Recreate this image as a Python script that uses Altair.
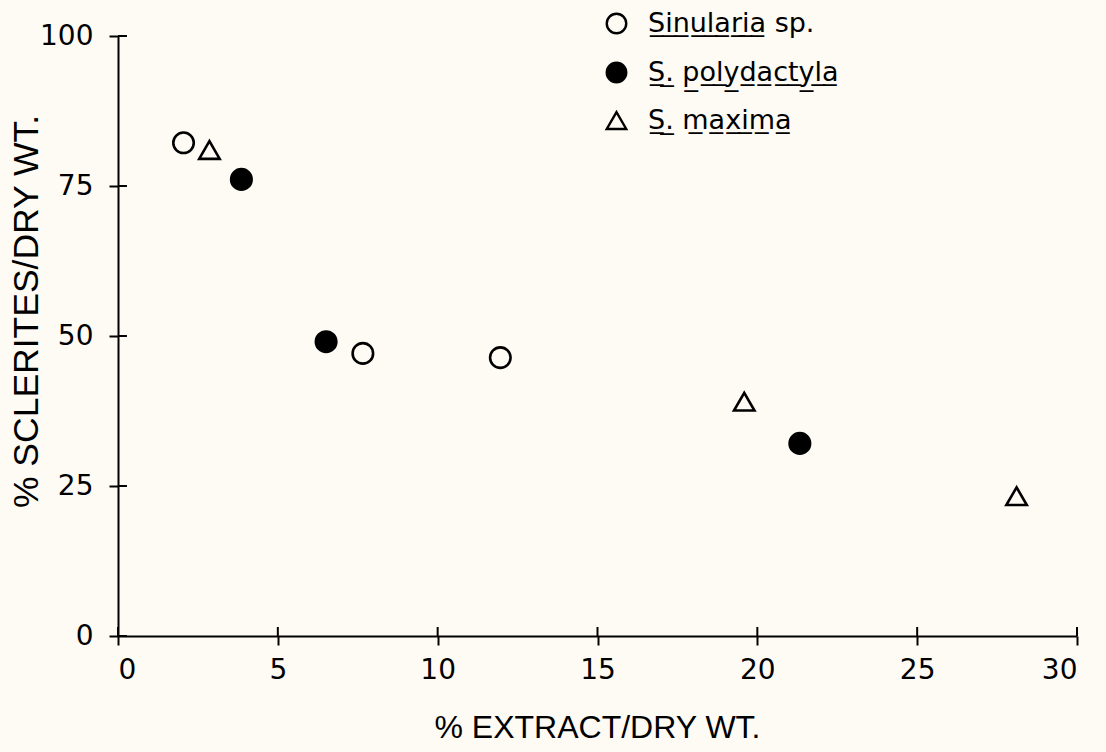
import altair as alt
import pandas as pd

# ---- data ----
species = ["Sinularia sp.", "Sinularia sp.", "Sinularia sp.",
           "S. polydactyla", "S. polydactyla", "S. polydactyla",
           "S. maxima", "S. maxima", "S. maxima"]
extract = [2.05, 7.66, 11.96, 3.86, 6.51, 21.33, 2.86, 19.59, 28.11]
sclerites = [82.2, 47.1, 46.4, 76.1, 49.05, 32.1, 81.0, 39.05, 23.3]

legend_order = ["Sinularia sp.", "S. polydactyla", "S. maxima"]
x_ticks = [0, 5, 10, 15, 20, 25, 30]
y_ticks = [0, 25, 50, 75, 100]

df = pd.DataFrame({"species": species, "extract": extract, "sclerites": sclerites})
x_tick_df = pd.DataFrame({"v": x_ticks})
y_tick_df = pd.DataFrame({"v": y_ticks})


def u(s):
    return "".join(c + "\u0332" for c in s)


label_map = {
    "Sinularia sp.": u("Sinularia") + " sp.",
    "S. polydactyla": u("S.") + " " + u("polydactyla"),
    "S. maxima": u("S.") + " " + u("maxima"),
}
label_expr = "{" + ",".join(f"'{k}':'{v}'" for k, v in label_map.items()) + "}[datum.label]"

TITLE_FONT = "Liberation Sans"
LABEL_FONT = "DejaVu Sans"

x_scale = alt.Scale(domain=[0, 30], nice=False, zero=False)
y_scale = alt.Scale(domain=[0, 100], nice=False, zero=False)

common_axis = dict(grid=False, tickColor="black", tickWidth=2, tickSize=9,
                   labelColor="black", titleColor="black")

legend_kw = dict(title=None, orient="none", legendX=485, legendY=-26,
                 labelFont=LABEL_FONT, labelFontSize=27, labelColor="black",
                 labelExpr=label_expr, labelLimit=500, symbolSize=380,
                 symbolStrokeWidth=2.4, rowPadding=18, labelOffset=18, padding=0)

points = alt.Chart(df).mark_point(filled=True, strokeWidth=2.6, size=420, opacity=1).encode(
    x=alt.X("extract:Q", scale=x_scale,
            axis=alt.Axis(values=x_ticks, title="% EXTRACT/DRY WT.", labelFont=LABEL_FONT,
                          labelFontSize=28, labelPadding=11, titleFont=TITLE_FONT,
                          titleFontSize=32, titleFontWeight="normal",
                          titleX=479, titleY=91, titleBaseline="middle", titleAlign="center",
                          domainColor="black", domainWidth=2, **common_axis)),
    y=alt.Y("sclerites:Q", scale=y_scale,
            axis=alt.Axis(values=y_ticks, title="% SCLERITES/DRY WT.", labelFont=LABEL_FONT,
                          labelFontSize=28, labelPadding=16, titleFont=TITLE_FONT,
                          titleFontSize=35.5, titleFontWeight="normal",
                          titleX=-92, titleY=275, titleBaseline="middle", titleAlign="center",
                          titleAngle=270, domainColor="black", domainWidth=2, **common_axis)),
    shape=alt.Shape("species:N", scale=alt.Scale(domain=legend_order,
                                                 range=["circle", "circle", "triangle-up"]),
                    legend=alt.Legend(**legend_kw)),
    fill=alt.Fill("species:N", scale=alt.Scale(domain=legend_order,
                                               range=["transparent", "black", "transparent"]),
                  legend=alt.Legend(**legend_kw)),
    stroke=alt.Stroke("species:N", scale=alt.Scale(domain=legend_order,
                                                   range=["black", "black", "black"]),
                      legend=alt.Legend(**legend_kw)),
)

# inward halves of the crossing axis ticks (about 9 px, expressed in data units)
x_inner = alt.Chart(x_tick_df).transform_calculate(lo="0", hi="1.5").mark_rule(
    color="black", strokeWidth=2).encode(
    x=alt.X("v:Q", scale=x_scale),
    y=alt.Y("lo:Q", scale=y_scale),
    y2="hi:Q")
y_inner = alt.Chart(y_tick_df).transform_calculate(lo="0", hi="0.28").mark_rule(
    color="black", strokeWidth=2).encode(
    y=alt.Y("v:Q", scale=y_scale),
    x=alt.X("lo:Q", scale=x_scale),
    x2="hi:Q")

chart = alt.layer(points, x_inner, y_inner).properties(
    width=959, height=600,
    autosize=alt.AutoSizeParams(type="none"),
    padding={"left": 118, "top": 36, "right": 29, "bottom": 116},
    background="#fdfbf4",
).configure_view(stroke=None)

chart.save("out.html", embed_options={"renderer": "svg", "actions": False})
